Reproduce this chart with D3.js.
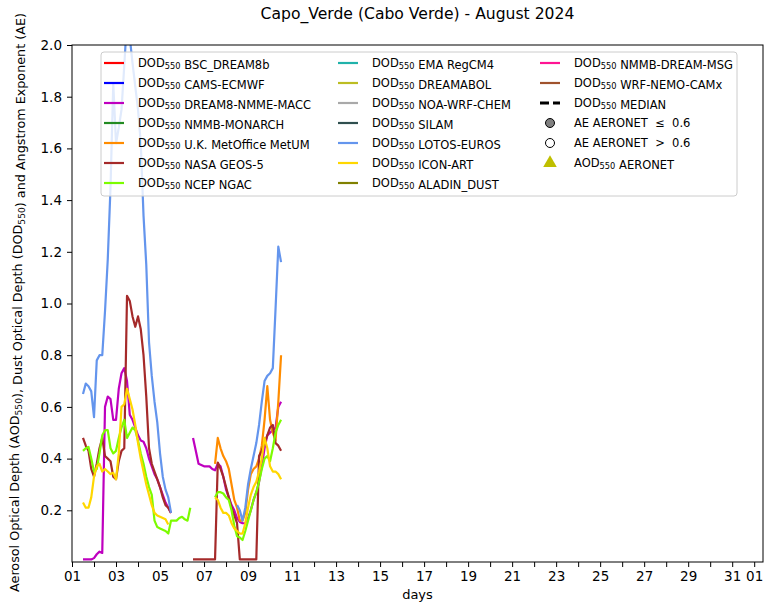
<!DOCTYPE html>
<html>
<head>
<meta charset="utf-8">
<script src="https://cdn.jsdelivr.net/npm/d3@7/dist/d3.min.js"></script>
<style>
  body { margin: 0; background: #fff; }
  text { font-family: "DejaVu Sans", sans-serif; fill: #000; }
</style>
</head>
<body>
<svg id="chart" width="771" height="602"></svg>
<script>
// ---- data (time in days since 01 August 2024 00:00, 3-hourly values) ----
const STEP = 0.125;

const modelNames = [
  "BSC_DREAM8b", "CAMS-ECMWF", "DREAM8-NMME-MACC", "NMMB-MONARCH",
  "U.K. MetOffice MetUM", "NASA GEOS-5", "NCEP NGAC", "EMA RegCM4",
  "DREAMABOL", "NOA-WRF-CHEM", "SILAM", "LOTOS-EUROS", "ICON-ART",
  "ALADIN_DUST", "NMMB-DREAM-MSG", "WRF-NEMO-CAMx"
];
const modelColors = [
  "#ff0000", "#0000ff", "#bf00bf", "#228b22",
  "#ff8c00", "#a52a2a", "#7cfc00", "#20b2aa",
  "#bcbd22", "#a9a9a9", "#2f4f4f", "#6495ed", "#ffd700",
  "#808000", "#ff1493", "#a0522d"
];

// DREAM8-NMME-MACC
const dream8Start = [0.5, 5.5];
const dream8A = [0.01,0.01,0.01,0.01,0.015,0.03,0.04,0.035,0.60,0.64,0.63,0.55,0.55,0.67,0.73,0.75,0.70,0.57,0.55,0.52,0.49,0.47,0.465,0.44,0.40,0.37,0.34,0.32,0.29,0.26,0.23,0.21,0.19];
const dream8B = [0.48,0.43,0.38,0.375,0.37,0.37,0.37,0.36,0.355,0.38,0.37,0.33,0.28,0.25,0.22,0.20,0.17,0.155,0.15,0.15,0.17,0.20,0.24,0.27,0.31,0.37,0.44,0.49,0.50,0.51,0.52,0.60,0.62];

// U.K. MetOffice MetUM
const metumStart = [6.5];
const metumB = [0.38,0.48,0.44,0.41,0.39,0.36,0.30,0.24,0.21,0.16,0.16,0.19,0.28,0.34,0.36,0.37,0.40,0.45,0.55,0.68,0.55,0.50,0.47,0.62,0.80];

// NASA GEOS-5
const geosStart = [0.5, 5.5];
const geosA = [0.48,0.45,0.43,0.36,0.33,0.38,0.44,0.48,0.41,0.40,0.39,0.33,0.32,0.39,0.43,0.44,1.03,1.01,0.95,0.91,0.95,0.90,0.80,0.64,0.44,0.38,0.35,0.32,0.29,0.25,0.22,0.21,0.19];
const geosB = [0.01,0.01,0.01,0.01,0.01,0.01,0.01,0.01,0.01,0.385,0.36,0.33,0.29,0.25,0.21,0.18,0.15,0.01,0.01,0.01,0.01,0.01,0.01,0.01,0.41,0.43,0.46,0.49,0.52,0.53,0.46,0.45,0.43];

// NCEP NGAC
const ngacStart = [0.5, 6.5];
const ngacA = [0.43,0.44,0.445,0.40,0.35,0.36,0.42,0.49,0.51,0.51,0.44,0.42,0.43,0.48,0.52,0.55,0.48,0.50,0.52,0.51,0.47,0.42,0.38,0.33,0.29,0.26,0.16,0.135,0.13,0.125,0.12,0.11,0.16,0.16,0.16,0.17,0.175,0.165,0.16,0.21];
const ngacB = [0.25,0.27,0.27,0.265,0.25,0.24,0.20,0.14,0.10,0.095,0.085,0.12,0.16,0.20,0.24,0.27,0.31,0.36,0.40,0.41,0.39,0.44,0.50,0.53,0.55];

// LOTOS-EUROS
const lotosStart = [0.5, 7.5];
const lotosA = [0.65,0.69,0.68,0.66,0.56,0.78,0.80,0.80,0.97,1.17,1.45,1.85,1.62,1.68,1.75,1.92,2.10,2.03,1.93,1.84,1.75,1.62,1.34,1.15,0.85,0.72,0.62,0.54,0.42,0.33,0.28,0.25,0.19];
const lotosB = [0.22,0.20,0.16,0.21,0.30,0.36,0.41,0.46,0.53,0.62,0.70,0.72,0.73,0.75,0.98,1.22,1.16];

// ICON-ART
const iconStart = [0.5, 6.5];
const iconA = [0.23,0.21,0.21,0.25,0.33,0.37,0.38,0.35,0.36,0.35,0.34,0.345,0.32,0.42,0.60,0.61,0.67,0.63,0.59,0.53,0.46,0.40,0.35,0.30,0.26,0.22,0.19,0.18,0.175,0.17,0.165,0.145];
const iconB = [0.25,0.24,0.21,0.19,0.19,0.18,0.15,0.13,0.12,0.11,0.11,0.15,0.21,0.26,0.29,0.31,0.35,0.40,0.48,0.44,0.37,0.35,0.35,0.34,0.32];

// axis ticks
const xTickDays = d3.range(0, 32);
const xLabelDays = [0, 2, 4, 6, 8, 10, 12, 14, 16, 18, 20, 22, 24, 26, 28, 30, 31];
const xLabelText = ["01","03","05","07","09","11","13","15","17","19","21","23","25","27","29","31","01"];
const yTicks = [0.2, 0.4, 0.6, 0.8, 1.0, 1.2, 1.4, 1.6, 1.8, 2.0];

// segments per model, in legend (drawing) order
const modelSegments = {
  "DREAM8-NMME-MACC": [[dream8Start[0], dream8A], [dream8Start[1], dream8B]],
  "U.K. MetOffice MetUM": [[metumStart[0], metumB]],
  "NASA GEOS-5": [[geosStart[0], geosA], [geosStart[1], geosB]],
  "NCEP NGAC": [[ngacStart[0], ngacA], [ngacStart[1], ngacB]],
  "LOTOS-EUROS": [[lotosStart[0], lotosA], [lotosStart[1], lotosB]],
  "ICON-ART": [[iconStart[0], iconA], [iconStart[1], iconB]]
};

// ---- layout ----
const svg = d3.select("#chart");
const L = 72, R = 763, T = 45, B = 562;
const x = d3.scaleLinear().domain([0, 31.4]).range([L, R]);
const y = d3.scaleLinear().domain([0, 2]).range([B, T]);

svg.append("defs").append("clipPath").attr("id", "plotclip")
  .append("rect").attr("x", L).attr("y", T).attr("width", R - L).attr("height", B - T);

// title
svg.append("text").attr("x", (L + R) / 2).attr("y", 19)
  .attr("text-anchor", "middle").style("font-size", "15.6px")
  .text("Capo_Verde (Cabo Verde) - August 2024");

// lines
const line = d3.line().x(d => x(d[0])).y(d => y(d[1]));
const plot = svg.append("g").attr("clip-path", "url(#plotclip)");
modelNames.forEach((name, i) => {
  const segs = modelSegments[name] || [];
  segs.forEach(([start, vals]) => {
    const pts = vals.map((v, k) => [start + k * STEP, v]);
    plot.append("path").datum(pts).attr("d", line)
      .attr("fill", "none").attr("stroke", modelColors[i])
      .attr("stroke-width", 2.2).attr("stroke-linejoin", "round");
  });
});

// axes
const xAxis = d3.axisBottom(x).tickValues(xTickDays).tickSizeOuter(0).tickSize(5).tickPadding(4)
  .tickFormat(d => { const j = xLabelDays.indexOf(d); return j >= 0 ? xLabelText[j] : ""; });
const gx = svg.append("g").attr("transform", `translate(0,${B})`).call(xAxis);
gx.select(".domain").remove();
gx.selectAll("text").style("font-size", "13.5px").style("font-family", "DejaVu Sans");

const yAxis = d3.axisLeft(y).tickValues(yTicks).tickSizeOuter(0).tickSize(5).tickPadding(5)
  .tickFormat(d3.format(".1f"));
const gy = svg.append("g").attr("transform", `translate(${L},0)`).call(yAxis);
gy.select(".domain").remove();
gy.selectAll("text").style("font-size", "13.5px").style("font-family", "DejaVu Sans");

svg.append("rect").attr("x", L).attr("y", T).attr("width", R - L).attr("height", B - T)
  .attr("fill", "none").attr("stroke", "#000").attr("stroke-width", 1);

// text with subscript parts
function richText(sel, parts) {
  parts.forEach(([s, sub]) => {
    if (sub) {
      sel.append("tspan").attr("dy", "0.3em").style("font-size", "0.72em").text(s);
      sel.append("tspan").attr("dy", "-0.3em").text("");
    } else {
      sel.append("tspan").text(s);
    }
  });
}

// axis labels
svg.append("text").attr("x", (L + R) / 2).attr("y", 599)
  .attr("text-anchor", "middle").style("font-size", "13px").text("days");

const ylab = svg.append("text")
  .attr("transform", `translate(19,${(T + B) / 2 - 1}) rotate(-90)`)
  .attr("text-anchor", "middle").style("font-size", "12.75px");
richText(ylab, [["Aerosol Optical Depth (AOD", false], ["550", true], ["), Dust Optical Depth (DOD", false], ["550", true], [") and Angstrom Exponent (AE)", false]]);

// legend
const leg = svg.append("g");
leg.append("rect").attr("x", 101).attr("y", 52).attr("width", 636).attr("height", 144)
  .attr("rx", 3).attr("fill", "#fff").attr("fill-opacity", 0.8)
  .attr("stroke", "#cccccc").attr("stroke-width", 1);

const colX = [104, 338, 540];
const rowY0 = 63, rowDY = 20;
const legendFont = "11.5px";

modelNames.forEach((name, i) => {
  const c = Math.floor(i / 7), r = i % 7;
  const cx = colX[c], cy = rowY0 + r * rowDY;
  leg.append("line").attr("x1", cx).attr("x2", cx + 20).attr("y1", cy).attr("y2", cy)
    .attr("stroke", modelColors[i]).attr("stroke-width", 2.2);
  const t = leg.append("text").attr("x", cx + 34).attr("y", cy + 4).style("font-size", legendFont);
  richText(t, [["DOD", false], ["550", true], [" " + name, false]]);
});

// extra legend entries in the third column
const c3 = colX[2];
let ry = rowY0 + 2 * rowDY;
leg.append("line").attr("x1", c3).attr("x2", c3 + 20).attr("y1", ry).attr("y2", ry)
  .attr("stroke", "#000").attr("stroke-width", 3).attr("stroke-dasharray", "9,4");
richText(leg.append("text").attr("x", c3 + 34).attr("y", ry + 4).style("font-size", legendFont),
  [["DOD", false], ["550", true], [" MEDIAN", false]]);

ry += rowDY;
leg.append("circle").attr("cx", c3 + 10).attr("cy", ry).attr("r", 4.5)
  .attr("fill", "#808080").attr("stroke", "#000").attr("stroke-width", 1);
leg.append("text").attr("x", c3 + 34).attr("y", ry + 4).style("font-size", legendFont)
  .attr("xml:space", "preserve").text("AE AERONET  \u2264  0.6");

ry += rowDY;
leg.append("circle").attr("cx", c3 + 10).attr("cy", ry).attr("r", 4.5)
  .attr("fill", "#fff").attr("stroke", "#000").attr("stroke-width", 1);
leg.append("text").attr("x", c3 + 34).attr("y", ry + 4).style("font-size", legendFont)
  .attr("xml:space", "preserve").text("AE AERONET  >  0.6");

ry += rowDY;
leg.append("path").attr("d", d3.symbol().type(d3.symbolTriangle).size(80)())
  .attr("transform", `translate(${c3 + 10},${ry})`).attr("fill", "#bfbf00");
richText(leg.append("text").attr("x", c3 + 34).attr("y", ry + 4).style("font-size", legendFont),
  [["AOD", false], ["550", true], [" AERONET", false]]);
</script>
</body>
</html>
